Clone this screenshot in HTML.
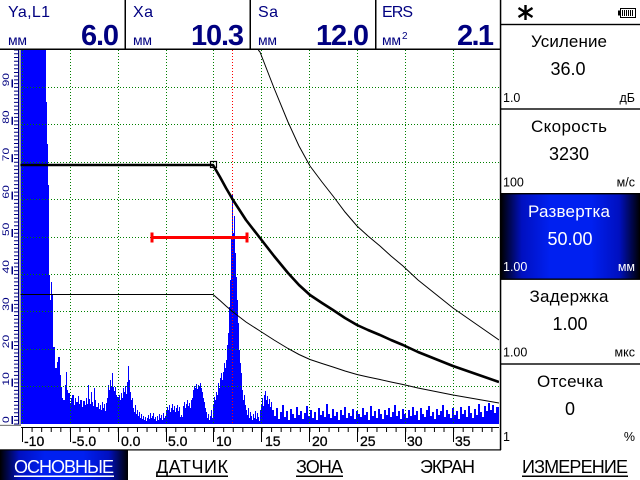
<!DOCTYPE html>
<html><head><meta charset="utf-8"><style>
html,body{margin:0;padding:0;background:#fff;}
svg{display:block;}
text{font-family:"Liberation Sans","DejaVu Sans",sans-serif;}
</style></head><body>
<svg width="640" height="480" viewBox="0 0 640 480" xmlns="http://www.w3.org/2000/svg">
<defs>
<linearGradient id="bg" x1="0" y1="0" x2="1" y2="0">
<stop offset="0" stop-color="#000000"/>
<stop offset="0.15" stop-color="#0010c0"/>
<stop offset="0.35" stop-color="#0020f0"/>
<stop offset="0.65" stop-color="#0020f0"/>
<stop offset="0.85" stop-color="#0010c0"/>
<stop offset="1" stop-color="#000000"/>
</linearGradient>
<clipPath id="pc"><rect x="20.5" y="50" width="478.5" height="375"/></clipPath>
</defs>
<rect x="0" y="0" width="640" height="480" fill="#fff"/>

<!-- HEADER -->
<g fill="#000080">
<text x="8" y="17" font-size="16" textLength="42">Ya,L1</text>
<text x="8" y="45" font-size="14" textLength="19">мм</text>
<text x="81" y="45" font-size="29" font-weight="bold" textLength="38">6.0</text>
<text x="133" y="17" font-size="16" textLength="20">Xa</text>
<text x="133" y="45" font-size="14" textLength="19">мм</text>
<text x="191" y="45" font-size="29" font-weight="bold" textLength="53">10.3</text>
<text x="258" y="17" font-size="16" textLength="20">Sa</text>
<text x="258" y="45" font-size="14" textLength="19">мм</text>
<text x="316" y="45" font-size="29" font-weight="bold" textLength="53">12.0</text>
<text x="382" y="17" font-size="16" textLength="31">ERS</text>
<text x="382" y="45" font-size="14" textLength="19">мм</text>
<text x="402" y="39" font-size="10">2</text>
<text x="457" y="45" font-size="29" font-weight="bold" textLength="37">2.1</text>
</g>
<rect x="124.5" y="0" width="1.5" height="49" fill="#000"/>
<rect x="249.5" y="0" width="1.5" height="49" fill="#000"/>
<rect x="375" y="0" width="1.5" height="49" fill="#000"/>
<rect x="0" y="48.5" width="501" height="1.5" fill="#000"/>

<!-- PLOT -->
<g clip-path="url(#pc)">
<path fill="#0000ff" d="M21 424 V50 H46 V102 H47 V144 H48 V185 H49 V275 H50 V300 H51 V282 H52 V295 H53 V347 H55 V368 H57 V362 H58 V357 H60 V375 H61 V387 H62 V398 H63 V400 H65 V385 H66 V372 H67 V390 H68 V393 H70 V403 H71 V398 H72 V395 H74 V405 H75 V398 H76 V402 H78 V396 H79 V404 H80 V400 H82 V407 H83 V401 H85 V405 H86 V398 H87 V404 H88 V385 H89 V399 H90 V404 H91 V392 H92 V402 H93 V406 H94 V388 H95 V400 H96 V407 H98 V403 H99 V409 H100 V405 H101 V410 H102 V402 H103 V408 H104 V404 H105 V411 H106 V403 H107 V398 H108 V385 H109 V390 H110 V380 H111 V386 H112 V373 H113 V387 H114 V391 H115 V387 H116 V395 H117 V397 H119 V395 H120 V400 H121 V393 H122 V398 H123 V388 H124 V392 H125 V386 H126 V394 H127 V382 H128 V366 H129 V380 H130 V392 H131 V400 H132 V398 H133 V408 H134 V412 H135 V405 H136 V414 H137 V410 H138 V416 H139 V412 H140 V418 H141 V414 H142 V419 H143 V416 H144 V420 H145 V417 H146 V421 H147 V418 H148 V415 H149 V419 H150 V413 H151 V418 H152 V416 H153 V413 H154 V419 H155 V417 H156 V421 H157 V416 H158 V420 H159 V414 H160 V418 H161 V415 H162 V420 H163 V413 H164 V418 H165 V416 H166 V411 H167 V407 H168 V410 H169 V405 H170 V412 H171 V408 H172 V404 H173 V410 H174 V406 H175 V412 H176 V408 H177 V405 H178 V411 H179 V407 H180 V417 H181 V415 H182 V417 H183 V406 H184 V402 H185 V408 H186 V404 H187 V400 H188 V406 H189 V403 H190 V408 H191 V400 H192 V398 H193 V390 H194 V386 H195 V388 H196 V384 H197 V389 H198 V385 H199 V386 H200 V383 H201 V388 H202 V392 H203 V398 H204 V402 H205 V408 H206 V412 H207 V418 H208 V414 H209 V420 H210 V416 H211 V410 H212 V418 H213 V405 H214 V397 H215 V400 H216 V392 H217 V395 H218 V383 H219 V388 H220 V378 H221 V373 H222 V380 H223 V372 H224 V363 H225 V368 H226 V360 H227 V345 H228 V333 H229 V307 H230 V280 H231 V237 H232 V195 H233 V233 H234 V216 H235 V253 H236 V277 H237 V300 H238 V323 H239 V350 H240 V363 H241 V373 H242 V390 H243 V400 H244 V395 H245 V405 H246 V410 H247 V415 H248 V408 H249 V418 H250 V412 H251 V416 H252 V420 H253 V414 H254 V418 H255 V411 H256 V419 H257 V413 H258 V417 H259 V421 H260 V410 H261 V405 H262 V398 H263 V406 H264 V395 H265 V391 H266 V400 H267 V396 H268 V404 H269 V399 H270 V407 H271 V402 H272
V410 h2 V416 h2 V408 h2 V419 h2 V412 h2 V405 h2 V417 h2 V411 h2 V420 h2 V409 h2
V414 h2 V418 h2 V407 h2 V415 h2 V411 h2 V419 h2 V413 h2 V406 h2 V416 h2 V410 h2
V418 h2 V412 h2 V420 h2 V408 h2 V415 h2 V411 h2 V417 h2 V404 h2 V414 h2 V418 h2
V409 h2 V416 h2 V412 h2 V420 h2 V410 h2 V415 h2 V407 h2 V418 h2 V413 h2 V416 h2
V409 h2 V419 h2 V411 h2 V414 h2 V417 h2 V408 h2 V415 h2 V412 h2 V420 h2 V406 h2
V416 h2 V411 h2 V418 h2 V409 h2 V414 h2 V419 h2 V410 h2 V415 h2 V408 h2 V417 h2
V412 h2 V405 h2 V416 h2 V411 h2 V419 h2 V409 h2 V414 h2 V418 h2 V410 h2 V416 h2
V407 h2 V415 h2 V411 h2 V420 h2 V408 h2 V414 h2 V417 h2 V410 h2 V406 h2 V416 h2
V412 h2 V419 h2 V409 h2 V415 h2 V411 h2 V405 h2 V417 h2 V410 h2 V414 h2 V418 h2
V408 h2 V415 h2 V411 h2 V419 h2 V407 h2 V414 h2 V410 h2 V417 h2 V406 h2 V413 h2
V418 h2 V409 h2 V415 h2 V404 h2 V412 h2 V417 h2 V406 h2 V411 h2 V403 h2 V410 h2
V405 h2 V413 h2 V407 h2 H499 V424 Z"/>

<!-- grid -->
<g stroke="#008000" stroke-width="1" stroke-dasharray="1 2" fill="none">
<line x1="22.5" y1="50" x2="22.5" y2="424"/>
<line x1="70.5" y1="50" x2="70.5" y2="424"/>
<line x1="118.5" y1="50" x2="118.5" y2="424"/>
<line x1="166.5" y1="50" x2="166.5" y2="424"/>
<line x1="213.5" y1="50" x2="213.5" y2="424"/>
<line x1="261.5" y1="50" x2="261.5" y2="424"/>
<line x1="309.5" y1="50" x2="309.5" y2="424"/>
<line x1="357.5" y1="50" x2="357.5" y2="424"/>
<line x1="405.5" y1="50" x2="405.5" y2="424"/>
<line x1="453.5" y1="50" x2="453.5" y2="424"/>
<line x1="21" y1="386.5" x2="499" y2="386.5"/>
<line x1="21" y1="349.5" x2="499" y2="349.5"/>
<line x1="21" y1="311.5" x2="499" y2="311.5"/>
<line x1="21" y1="274.5" x2="499" y2="274.5"/>
<line x1="21" y1="237.5" x2="499" y2="237.5"/>
<line x1="21" y1="199.5" x2="499" y2="199.5"/>
<line x1="21" y1="162.5" x2="499" y2="162.5"/>
<line x1="21" y1="124.5" x2="499" y2="124.5"/>
<line x1="21" y1="87.5" x2="499" y2="87.5"/>
</g>
<line x1="232.5" y1="50" x2="232.5" y2="424" stroke="#ff0000" stroke-width="1" stroke-dasharray="1 2"/>

<!-- curves -->
<polyline fill="none" stroke="#000" stroke-width="2.6" stroke-linejoin="round" points="20,165 213,165 220,177 226,188 233,200 246,220 260,238 274,256 288,273 299,285 310,295 322,303 333,310 345,318 357,325 368,330 380,335 391,340 403,345 418,352 433,358 453,366 476,374 499,382"/>
<polyline fill="none" stroke="#000" stroke-width="1" points="20,294.5 213,294.5 220,300.5 226,306 233,312 246,322 260,331 274,340 288,348.5 299,354.5 310,359.5 322,363.5 333,367 345,371 357,374.5 368,377 380,379.5 391,382 403,384.5 418,388 433,391 453,395 476,399 499,403"/>
<polyline fill="none" stroke="#000" stroke-width="1" points="258.3,50 260,52 274,88 288,122 299,146 310,166 322,182 333,196 345,212 357,226 368,236 380,246 391,256 403,266 418,280 433,292 453,308 476,324 499,340"/>
<rect x="210.5" y="161.5" width="6" height="6" fill="none" stroke="#000" stroke-width="1.2"/>

<!-- gate -->
<rect x="152" y="236" width="95" height="3" fill="#ff0000"/>
<rect x="150.5" y="232.5" width="3" height="10" fill="#ff0000"/>
<rect x="245.5" y="232.5" width="3" height="10" fill="#ff0000"/>
</g>

<!-- plot borders -->
<rect x="19.5" y="50" width="1.2" height="376" fill="#808080"/>
<rect x="0" y="424.8" width="21" height="1.2" fill="#808080"/>

<!-- left ruler -->
<line x1="18.5" y1="50" x2="18.5" y2="424.5" stroke="#000080" stroke-width="1"/>
<line x1="16" y1="424.5" x2="16" y2="50" stroke="#000080" stroke-width="4" stroke-dasharray="1 2.74"/>
<g fill="#000080">
<rect x="11.5" y="416" width="1.5" height="8"/>
<rect x="11.5" y="378.6" width="1.5" height="8"/>
<rect x="11.5" y="341.2" width="1.5" height="8"/>
<rect x="11.5" y="303.8" width="1.5" height="8"/>
<rect x="11.5" y="266.4" width="1.5" height="8"/>
<rect x="11.5" y="229" width="1.5" height="8"/>
<rect x="11.5" y="191.6" width="1.5" height="8"/>
<rect x="11.5" y="154.2" width="1.5" height="8"/>
<rect x="11.5" y="116.8" width="1.5" height="8"/>
<rect x="11.5" y="79.4" width="1.5" height="8"/>
</g>
<g fill="#000080" font-size="12">
<text transform="translate(9,423) rotate(-90) scale(1,0.75)">0</text>
<text transform="translate(9,385.6) rotate(-90) scale(1,0.75)">10</text>
<text transform="translate(9,348.2) rotate(-90) scale(1,0.75)">20</text>
<text transform="translate(9,310.8) rotate(-90) scale(1,0.75)">30</text>
<text transform="translate(9,273.4) rotate(-90) scale(1,0.75)">40</text>
<text transform="translate(9,236) rotate(-90) scale(1,0.75)">50</text>
<text transform="translate(9,198.6) rotate(-90) scale(1,0.75)">60</text>
<text transform="translate(9,161.2) rotate(-90) scale(1,0.75)">70</text>
<text transform="translate(9,123.8) rotate(-90) scale(1,0.75)">80</text>
<text transform="translate(9,86.4) rotate(-90) scale(1,0.75)">90</text>
</g>

<!-- bottom ruler -->
<line x1="21" y1="427.5" x2="499" y2="427.5" stroke="#000" stroke-width="1"/>
<line x1="22" y1="430" x2="499" y2="430" stroke="#000" stroke-width="4" stroke-dasharray="1 8.58"/>
<g stroke="#000" stroke-width="1">
<line x1="22.5" y1="428" x2="22.5" y2="442"/>
<line x1="70.5" y1="428" x2="70.5" y2="442"/>
<line x1="118.5" y1="428" x2="118.5" y2="442"/>
<line x1="166.5" y1="428" x2="166.5" y2="442"/>
<line x1="213.5" y1="428" x2="213.5" y2="442"/>
<line x1="261.5" y1="428" x2="261.5" y2="442"/>
<line x1="309.5" y1="428" x2="309.5" y2="442"/>
<line x1="357.5" y1="428" x2="357.5" y2="442"/>
<line x1="405.5" y1="428" x2="405.5" y2="442"/>
<line x1="453.5" y1="428" x2="453.5" y2="442"/>
</g>
<g fill="#000" font-size="14" stroke="#000" stroke-width="0.3">
<text x="24" y="446">-10</text>
<text x="72" y="446">-5.0</text>
<text x="121" y="446">0.0</text>
<text x="168" y="446">5.0</text>
<text x="216" y="446">10</text>
<text x="265" y="446">15</text>
<text x="312" y="446">20</text>
<text x="360" y="446">25</text>
<text x="407" y="446">30</text>
<text x="455" y="446">35</text>
</g>
<rect x="0" y="449.3" width="501" height="1.2" fill="#000"/>

<!-- RIGHT PANEL -->
<rect x="501" y="0" width="139" height="450" fill="#fff"/>
<rect x="501" y="194" width="139" height="85" fill="url(#bg)"/>
<rect x="499.8" y="0" width="1.5" height="450" fill="#000"/>
<rect x="501" y="23.8" width="139" height="1.4" fill="#000"/>
<rect x="501" y="108.3" width="139" height="1.4" fill="#000"/>
<rect x="501" y="193" width="139" height="1.4" fill="#000"/>
<rect x="501" y="278.5" width="139" height="1.4" fill="#000"/>
<rect x="501" y="363.3" width="139" height="1.4" fill="#000"/>

<!-- asterisk -->
<g stroke="#000" stroke-width="2.4" stroke-linecap="butt">
<line x1="525.5" y1="5" x2="525.5" y2="20"/>
<line x1="518.5" y1="8" x2="532.5" y2="17"/>
<line x1="518.5" y1="17" x2="532.5" y2="8"/>
</g>
<!-- battery -->
<rect x="618" y="10.5" width="2.5" height="5" fill="#000"/>
<rect x="620.5" y="8.5" width="15" height="9" fill="none" stroke="#000" stroke-width="1"/>
<g stroke="#000" stroke-width="1">
<line x1="622.5" y1="10" x2="622.5" y2="16"/>
<line x1="624.5" y1="10" x2="624.5" y2="16"/>
<line x1="626.5" y1="10" x2="626.5" y2="16"/>
<line x1="628.5" y1="10" x2="628.5" y2="16"/>
<line x1="630.5" y1="10" x2="630.5" y2="16"/>
<line x1="632.5" y1="10" x2="632.5" y2="16"/>
</g>

<g fill="#000">
<text x="569" y="47" text-anchor="middle" font-size="17" textLength="76">Усиление</text>
<text x="568" y="75" text-anchor="middle" font-size="18">36.0</text>
<text x="503" y="102" font-size="12.5">1.0</text>
<text x="635" y="102" text-anchor="end" font-size="12.5">дБ</text>

<text x="569" y="132" text-anchor="middle" font-size="17" textLength="76">Скорость</text>
<text x="569" y="160" text-anchor="middle" font-size="18">3230</text>
<text x="503" y="186.5" font-size="12.5">100</text>
<text x="635" y="186.5" text-anchor="end" font-size="12.5">м/с</text>
</g>
<g fill="#fff">
<text x="569" y="217" text-anchor="middle" font-size="17" textLength="82">Развертка</text>
<text x="570" y="245" text-anchor="middle" font-size="18">50.00</text>
<text x="503" y="271" font-size="12.5">1.00</text>
<text x="635" y="271" text-anchor="end" font-size="12.5">мм</text>
</g>
<g fill="#000">
<text x="569" y="302" text-anchor="middle" font-size="17" textLength="79">Задержка</text>
<text x="570" y="330" text-anchor="middle" font-size="18">1.00</text>
<text x="503" y="356.5" font-size="12.5">1.00</text>
<text x="635" y="356.5" text-anchor="end" font-size="12.5">мкс</text>

<text x="570" y="387" text-anchor="middle" font-size="17" textLength="66">Отсечка</text>
<text x="570" y="415" text-anchor="middle" font-size="18">0</text>
<text x="503" y="441" font-size="12.5">1</text>
<text x="635" y="441" text-anchor="end" font-size="12.5">%</text>
</g>

<!-- TAB BAR -->
<rect x="0" y="450.5" width="128" height="29.5" fill="url(#bg)"/>
<g font-size="18">
<text x="14" y="473" fill="#fff" textLength="100">ОСНОВНЫЕ</text>
<text x="156" y="473" fill="#000" textLength="72">ДАТЧИК</text>
<text x="296" y="473" fill="#000" textLength="47">ЗОНА</text>
<text x="420" y="473" fill="#000" textLength="55">ЭКРАН</text>
<text x="522" y="473" fill="#000" textLength="106">ИЗМЕРЕНИЕ</text>
</g>
<rect x="14" y="475.5" width="100" height="1.5" fill="#fff"/>
<rect x="156" y="475.5" width="72" height="1.5" fill="#000"/>
<rect x="296" y="475.5" width="47" height="1.5" fill="#000"/>
<rect x="522" y="475.5" width="106" height="1.5" fill="#000"/>
</svg>
</body></html>
